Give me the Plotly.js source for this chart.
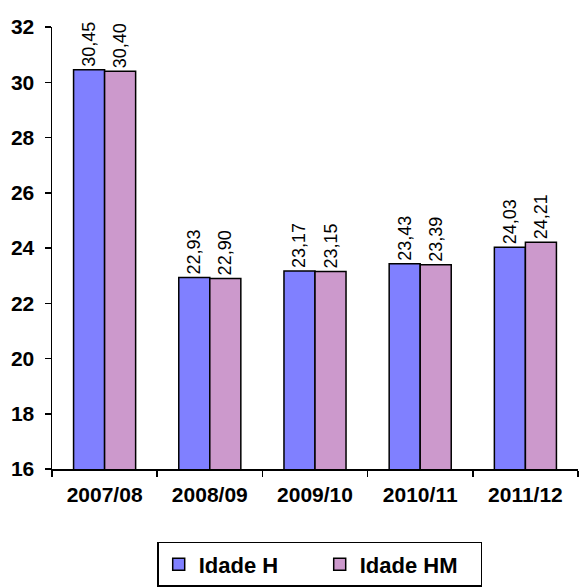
<!DOCTYPE html>
<html>
<head>
<meta charset="utf-8">
<script src="https://cdn.plot.ly/plotly-3.0.1.min.js"></script>
<style>html,body{margin:0;padding:0;background:#fff;}#chart{width:579px;height:588px;}</style>
</head>
<body>
<div id="chart"></div>
<script>
const categories = ["2007/08", "2008/09", "2009/10", "2010/11", "2011/12"];
const idadeH = [30.45, 22.93, 23.17, 23.43, 24.03];
const idadeHM = [30.40, 22.90, 23.15, 23.39, 24.21];
const seriesNames = ["Idade H", "Idade HM"];
const yTicks = [16, 18, 20, 22, 24, 26, 28, 30, 32];

const FONT = "Arial, 'Liberation Sans', sans-serif";

function barTrace(name, y, color) {
  return {
    type: "bar",
    name: name,
    x: categories,
    y: y,
    marker: {color: color, line: {color: "#000", width: 1.5}},
    texttemplate: "%{y:.2f}",
    textposition: "outside",
    textangle: -90,
    constraintext: "none",
    cliponaxis: false,
    textfont: {family: FONT, size: 18, color: "#000"}
  };
}

const data = [
  barTrace(seriesNames[0], idadeH, "#8080FF"),
  barTrace(seriesNames[1], idadeHM, "#CC99CC")
];

const layout = {
  width: 579, height: 588,
  margin: {l: 52, r: 1, t: 27, b: 113},
  paper_bgcolor: "#fff", plot_bgcolor: "#fff",
  separators: ", ",
  barmode: "group",
  bargap: 0.41,
  bargroupgap: 0,
  font: {family: FONT, color: "#000"},
  xaxis: {
    type: "category",
    showline: true, linecolor: "#000", linewidth: 1.5,
    ticks: "outside", tickson: "boundaries", ticklen: 6, tickcolor: "#000", tickwidth: 1.5,
    tickfont: {size: 21, weight: "bold"},
    ticklabelstandoff: 6,
    showgrid: false, zeroline: false
  },
  yaxis: {
    range: [16, 32],
    tickvals: yTicks,
    showline: true, linecolor: "#000", linewidth: 1.5,
    ticks: "outside", ticklen: 6, tickcolor: "#000", tickwidth: 1.5,
    tickfont: {size: 21, weight: "bold"},
    ticklabelstandoff: 6,
    showgrid: false, zeroline: false
  },
  showlegend: true,
  legend: {
    orientation: "h",
    x: 0.2, xanchor: "left",
    y: -0.165, yanchor: "top",
    bordercolor: "#000", borderwidth: 1.5,
    font: {size: 22, weight: "bold"},
    entrywidth: 116,
    traceorder: "normal"
  }
};

Plotly.newPlot("chart", data, layout, {displayModeBar: false, staticPlot: true});
</script>
</body>
</html>
